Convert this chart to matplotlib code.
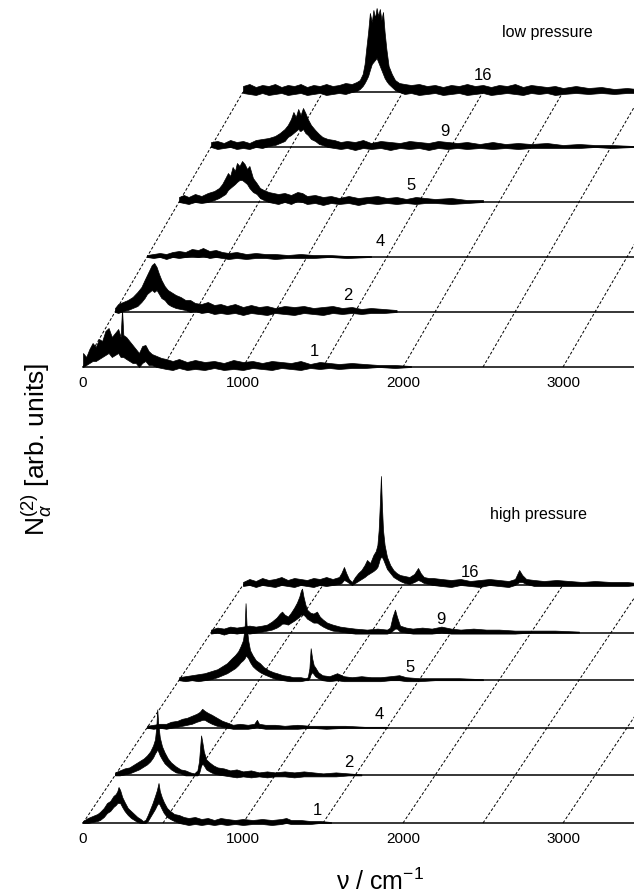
import matplotlib
matplotlib.use("Agg")
import matplotlib.pyplot as plt

plt.rcParams['font.family'] = ['Liberation Sans', 'DejaVu Sans']
plt.rcParams['mathtext.fontset'] = 'custom'
plt.rcParams['mathtext.rm'] = 'Liberation Sans'
plt.rcParams['mathtext.it'] = 'Liberation Sans:italic'
plt.rcParams['mathtext.sf'] = 'Liberation Sans'

# ---------------- data (local frequency cm^-1, upper, lower envelope; arb. units) -------------
labels = ["1", "2", "4", "5", "9", "16"]
xtick_vals = [0, 1000, 2000, 3000]
grid_starts = [0, 500, 1000, 1500, 2000, 2500, 3000, 3500]

low_1 = [(0,14,0),(20,10,2),(40,18,4),(60,24,6),(80,20,6),(100,28,8),(120,26,10),(140,36,12),
         (160,39,14),(180,30,10),(200,34,12),(220,38,14),(235,30,10),(244,58,10),(252,32,10),
         (270,30,8),(290,26,6),(310,22,4),(330,18,4),(350,14,0),(370,21,4),(390,22,6),(410,16,2),
         (430,13,2),(460,11,0),(490,9,-1),(520,8,-2),(560,6,-3),(600,8,-1),(650,5,-3),(700,7,-2),
         (760,5,-3),(820,6,-1),(880,4,-3),(940,7,-2),(1000,5,-3),(1060,6,-1),(1120,4,-2),
         (1180,6,-3),(1240,5,-1),(1300,4,-2),(1360,6,-3),(1420,3,-1),(1480,5,-2),(1540,4,-1),
         (1600,3,-2),(1680,4,-1),(1760,3,-1),(1850,2,0),(1950,2,-1),(2050,1,0)]
low_2 = [(0,4,0),(20,8,-1),(50,10,1),(80,12,2),(110,15,4),(140,20,6),(165,25,10),(185,32,14),
         (200,37,18),(215,42,20),(230,47,22),(245,49,20),(260,45,22),(275,38,18),(290,32,14),
         (310,26,12),(330,22,8),(350,20,6),(380,17,4),(410,15,3),(440,12,2),(470,12,0),(500,9,1),
         (540,8,-1),(580,10,0),(620,7,-2),(660,8,-1),(700,6,-2),(750,8,-1),(800,5,-3),(850,7,-1),
         (900,5,-2),(950,6,-3),(1000,4,-1),(1060,6,-2),(1120,5,-3),(1180,6,-1),(1240,4,-2),
         (1300,5,-3),(1360,6,-1),(1420,4,-2),(1480,5,-1),(1540,3,-2),(1600,4,-1),(1680,3,-1),
         (1760,2,0)]
low_4 = [(0,2,0),(40,3,-1),(80,4,0),(120,3,-2),(160,5,0),(200,6,-1),(240,5,0),(280,8,1),
         (320,7,0),(350,9,1),(390,6,-1),(430,7,0),(470,5,-1),(510,4,-2),(560,5,-1),(620,3,-2),
         (680,4,-1),(740,3,-1),(800,3,-2),(880,2,-1),(960,3,-1),(1040,2,-1),(1140,2,0),
         (1250,1,-1),(1400,1,0)]
low_5 = [(0,5,0),(30,7,-1),(60,5,-2),(100,8,0),(140,6,-1),(180,9,0),(220,11,2),(250,14,4),
         (270,18,6),(290,24,8),(306,29,12),(320,26,14),(335,35,16),(350,31,18),(362,39,20),
         (378,36,22),(394,41,22),(410,38,20),(425,33,18),(440,36,14),(462,24,10),(485,19,8),
         (506,14,4),(530,12,2),(560,10,0),(590,9,-1),(620,8,-2),(660,9,0),(700,7,-2),(740,10,1),
         (770,9,0),(800,6,-2),(850,7,-1),(900,5,-3),(950,6,-1),(1000,4,-2),(1060,6,-1),
         (1120,4,-3),(1180,5,-1),(1240,6,-2),(1300,4,-1),(1360,5,-2),(1420,3,-1),(1480,5,-2),
         (1540,4,-1),(1600,3,-1),(1700,4,-2),(1800,2,-1),(1900,2,0)]
low_9 = [(0,5,0),(40,6,-2),(80,4,-1),(120,7,0),(160,5,-2),(200,6,-1),(240,4,-2),(280,7,0),
         (320,8,-1),(360,9,1),(400,11,2),(430,14,4),(460,18,6),(480,22,10),(500,28,12),
         (515,35,14),(530,30,16),(545,38,18),(560,32,16),(575,39,18),(590,34,14),(605,28,12),
         (625,22,8),(651,17,6),(675,13,3),(697,10,2),(730,8,0),(770,7,-1),(810,5,-2),(850,6,-1),
         (900,5,-3),(950,7,-1),(1000,4,-2),(1060,6,-1),(1120,5,-3),(1180,4,-1),(1240,6,-2),
         (1300,5,-1),(1360,4,-3),(1420,6,-1),(1480,5,-2),(1540,4,-1),(1600,5,-2),(1680,3,-1),
         (1760,5,-2),(1840,3,-1),(1920,4,-2),(2000,3,-1),(2100,4,-1),(2200,2,-1),(2300,3,-1),
         (2400,2,0),(2500,2,-1),(2644,1,0)]
low_16 = [(0,6,-1),(40,8,-2),(80,5,-3),(120,7,-1),(160,6,-3),(200,8,-2),(240,5,-1),(280,7,-3),
          (320,6,-2),(360,8,-1),(400,5,-3),(440,7,-2),(480,6,-1),(520,8,-3),(560,6,-2),(600,7,-1),
          (640,9,-2),(680,8,0),(710,10,1),(730,12,3),(748,18,6),(760,28,9),(770,43,12),(782,60,16),
          (793,79,22),(805,70,28),(815,82,30),(825,74,32),(835,84,34),(845,76,30),(855,83,26),
          (865,72,22),(875,80,18),(885,60,14),(896,43,11),(910,26,8),(930,18,5),(950,12,2),
          (976,9,0),(1010,8,-2),(1050,7,-1),(1100,8,-3),(1150,6,-2),(1200,7,-1),(1250,5,-3),
          (1300,7,-2),(1350,6,-1),(1400,8,-3),(1450,6,-2),(1500,7,-1),(1550,5,-3),(1600,7,-2),
          (1650,6,-1),(1700,8,-2),(1750,5,-3),(1800,7,-1),(1850,6,-2),(1900,5,-1),(1950,6,-3),
          (2000,4,-2),(2080,6,-1),(2160,4,-2),(2240,5,-1),(2320,3,-2),(2400,4,-1),(2460,3,-1)]

high_1 = [(0,2,0),(30,5,0),(60,7,1),(90,9,2),(106,11,3),(130,15,6),(150,20,10),(170,22,12),
          (190,27,16),(205,29,18),(215,32,20),(222,36,20),(232,33,20),(245,26,16),(260,21,12),
          (280,15,8),(300,12,5),(320,9,3),(340,6,1),(360,4,0),(375,2,0),(390,3,0),(405,8,2),
          (420,14,6),(435,20,10),(450,27,14),(462,33,18),(472,40,20),(480,32,18),(492,26,14),
          (505,21,10),(525,15,6),(545,12,4),(570,9,2),(600,8,0),(630,6,-1),(660,5,-2),(700,6,-1),
          (740,4,-2),(780,5,-1),(820,3,-2),(860,5,-1),(900,4,-2),(950,3,-1),(1000,4,-2),
          (1060,3,-1),(1120,4,-1),(1180,3,-2),(1240,4,-1),(1270,5,0),(1300,3,-1),(1360,3,-1),
          (1420,2,-1),(1480,2,0),(1550,1,0)]
high_2 = [(0,3,0),(30,5,0),(60,7,1),(90,8,2),(120,11,4),(150,14,6),(180,17,9),(200,20,11),
          (220,24,14),(238,30,18),(250,36,22),(258,48,24),(264,66,26),(270,52,24),(280,38,20),
          (294,29,16),(310,23,12),(330,17,9),(350,13,6),(380,9,3),(410,6,2),(440,5,0),(470,3,0),
          (495,2,0),(515,5,0),(525,14,2),(532,28,6),(538,40,10),(545,34,12),(555,24,10),
          (570,16,6),(590,13,4),(615,10,2),(640,8,1),(680,7,0),(720,5,-1),(760,6,-2),(800,4,-1),
          (850,5,-2),(900,3,-1),(950,4,-2),(1000,3,-1),(1060,4,-1),(1120,3,-2),(1180,4,-1),
          (1240,3,-1),(1300,2,-1),(1380,3,-1),(1460,2,0),(1540,1,0)]
high_4 = [(0,2,0),(40,3,-1),(80,4,0),(120,4,-1),(150,6,0),(190,7,1),(220,9,2),(250,10,3),
          (280,12,4),(310,14,6),(330,16,7),(345,19,8),(360,17,8),(380,15,6),(405,13,4),
          (437,10,2),(470,7,1),(505,5,0),(537,3,-1),(580,4,-1),(630,3,-1),(670,4,0),(687,8,1),
          (700,4,0),(740,3,-1),(800,3,-1),(860,2,-1),(940,3,-1),(1020,2,0),(1120,2,-1),
          (1240,2,0),(1360,1,0),(1500,1,0)]
high_5 = [(0,3,0),(40,4,-1),(80,5,0),(120,6,-1),(160,7,0),(200,9,1),(240,11,3),(270,14,5),
          (300,17,7),(330,22,10),(350,25,12),(370,29,15),(385,34,18),(400,40,20),(410,52,22),
          (416,77,24),(422,56,24),(432,40,22),(444,30,18),(460,25,14),(480,20,11),(506,17,8),
          (530,13,6),(560,10,4),(590,8,2),(612,7,1),(650,5,0),(690,4,-1),(712,3,-1),(760,3,-1),
          (790,2,0),(805,3,0),(815,12,2),(823,32,6),(832,22,8),(842,15,6),(851,13,4),(870,8,2),
          (896,5,0),(940,4,-1),(988,7,0),(1030,4,-1),(1080,3,-1),(1140,4,-1),(1200,3,-1),
          (1260,3,-1),(1320,4,0),(1376,5,0),(1420,3,-1),(1500,2,-1),(1600,2,0),(1750,2,0),
          (1900,1,0)]
high_9 = [(0,3,-1),(40,5,0),(80,4,-2),(120,6,0),(160,5,-1),(200,6,0),(240,7,-1),(280,6,0),
          (320,7,1),(350,8,2),(380,11,3),(410,15,5),(430,19,7),(444,21,9),(460,18,9),(481,16,8),
          (500,20,10),(520,25,12),(537,30,14),(552,36,16),(562,42,18),(569,44,18),(578,36,18),
          (590,28,16),(600,23,14),(620,20,12),(640,19,10),(662,21,10),(680,16,8),(700,13,6),
          (725,10,4),(760,8,2),(806,6,1),(850,5,0),(900,4,-1),(975,3,-1),(1040,4,-1),(1100,3,-1),
          (1119,5,0),(1135,16,2),(1150,23,4),(1162,16,4),(1181,7,1),(1220,5,0),(1260,4,-1),
          (1320,5,-1),(1380,4,-1),(1440,6,0),(1500,4,-1),(1560,3,-1),(1640,4,-1),(1720,3,-1),
          (1800,3,-1),(1900,2,-1),(2000,2,0),(2150,2,0),(2300,1,0)]
high_16 = [(0,3,-1),(40,6,0),(80,4,-2),(120,7,0),(160,5,-1),(200,6,-2),(240,8,0),(280,5,-1),
           (320,7,-2),(360,6,0),(400,5,-1),(440,7,-2),(480,6,0),(520,8,-1),(560,6,0),(600,8,1),
           (615,12,2),(631,18,5),(645,12,4),(662,6,2),(681,3,0),(700,8,2),(720,12,4),(740,15,6),
           (760,20,8),(775,25,10),(795,22,12),(815,30,14),(830,34,16),(840,40,18),(848,55,22),
           (855,80,26),(862,109,28),(868,80,28),(875,55,26),(885,40,22),(900,28,16),(920,20,12),
           (940,15,8),(960,12,6),(981,10,4),(1010,9,2),(1040,8,1),(1070,11,3),(1094,17,5),
           (1110,12,4),(1130,8,2),(1160,7,1),(1187,7,0),(1240,6,-1),(1300,5,-2),(1360,6,0),
           (1420,4,-1),(1480,5,-2),(1540,6,0),(1600,5,-1),(1660,4,-2),(1700,6,0),(1726,15,3),
           (1745,10,3),(1770,6,1),(1820,5,-1),(1880,4,-1),(1960,5,-1),(2040,4,-1),(2120,3,-1),
           (2200,4,-1),(2300,3,-1),(2400,3,-1),(2460,2,0)]

low_traces = [low_1, low_2, low_4, low_5, low_9, low_16]
high_traces = [high_1, high_2, high_4, high_5, high_9, high_16]
low_label_x = [1444, 1456, 1457, 1451, 1462, 1502]
high_label_x = [1462, 1461, 1451, 1445, 1434, 1417]

# ---------------- layout ----------------
W, H = 634, 896
X0PIX, PXPER = 83, 0.16          # pixel of nu=0, pixels per cm^-1
XMIN = -X0PIX / PXPER
XMAX = (W - X0PIX) / PXPER
SHIFT = 200                       # horizontal offset between successive traces

fig = plt.figure(figsize=(W / 100, H / 100), dpi=100)


def panel(rect_pix, base_pix, step, traces, label_x, label_dy, title, title_xy):
    top, bot = rect_pix
    ax = fig.add_axes([0, 1 - bot / H, 1, (bot - top) / H])
    ax.set_xlim(XMIN, XMAX)
    ax.set_ylim(base_pix - bot, base_pix - top)
    for s in ['top', 'right', 'left']:
        ax.spines[s].set_visible(False)
    ax.spines['bottom'].set_position(('data', 0))
    ax.spines['bottom'].set_bounds(0, XMAX)
    ax.spines['bottom'].set_linewidth(1.1)
    ax.set_yticks([])
    ax.set_xticks(xtick_vals)
    ax.set_xticklabels([str(v) for v in xtick_vals])
    ax.tick_params(axis='x', length=0, pad=6.5, labelsize=11)
    n = len(traces)
    # diagonal dotted grid
    for g in grid_starts:
        ax.plot([g, g + SHIFT * (n - 1)], [0, step * (n - 1)], color='black', lw=0.7,
                ls=(0, (3, 2)), zorder=1)
    for k, tr in enumerate(traces):
        off = step * k
        xs = [p[0] + SHIFT * k for p in tr]
        up = [off + p[1] for p in tr]
        lo = [off + p[2] for p in tr]
        if k > 0:
            ax.hlines(off, SHIFT * k, XMAX + 50, color='black', lw=1.1, zorder=2)
        ax.fill_between(xs, lo, up, color='black', lw=0.5, edgecolor='black', zorder=3)
        ax.text(label_x[k] + SHIFT * k, off + label_dy, labels[k], ha='center', va='center',
                fontsize=12)
    fig.text(title_xy[0] / W, 1 - title_xy[1] / H, title, ha='center', va='center', fontsize=11.5)
    return ax


panel((0, 400), 367, 55, low_traces, low_label_x, 16, 'low pressure', (547, 32))
panel((440, 896), 823, 47.6, high_traces, high_label_x, 13, 'high pressure', (538, 514))

fig.text(37 / W, 1 - 449 / H, r'N$_{\alpha}^{(2)}$ [arb. units]', rotation=90,
         ha='center', va='center', fontsize=19)
fig.text(380 / W, 1 - 882 / H, r'ν / cm$^{-1}$', ha='center', va='center', fontsize=18)

fig.savefig('out.png', dpi=100)
